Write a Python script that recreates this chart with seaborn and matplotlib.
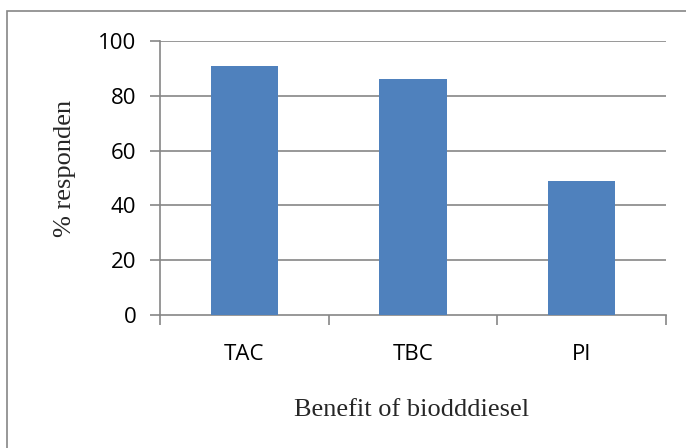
"""
Bar chart: % of respondents per perceived benefit of biodiesel.
"""

import matplotlib.pyplot as plt
import seaborn as sns
from matplotlib.patches import Rectangle

# ==========================================
# DATA
# ==========================================
benefits = ["TAC", "TBC", "PI"]
pct_responden = [91, 86, 49]
y_ticks = [0, 20, 40, 60, 80, 100]

BAR_COLOR = "#4f81bd"
AXIS_GRAY = "#868686"


def main():
    sns.set_theme(style="white")
    plt.rcParams["font.family"] = ["Open Sans", "DejaVu Sans"]

    fig = plt.figure(figsize=(6.86, 4.48), dpi=100)
    ax = fig.add_axes([160 / 686, 1 - 315 / 448, 506 / 686, 274 / 448])

    sns.barplot(x=benefits, y=pct_responden, color=BAR_COLOR,
                width=0.4, saturation=1, linewidth=0, ax=ax, zorder=3)

    ax.set_ylim(0, 100)
    ax.set_xlim(-0.5, 2.5)
    ax.set_yticks(y_ticks)
    ax.set_yticklabels([str(v) for v in y_ticks], fontsize=16)
    ax.set_xticks(range(len(benefits)))
    ax.set_xticklabels(benefits, fontsize=16)

    # horizontal gridlines
    for v in y_ticks[1:]:
        ax.axhline(v, color=AXIS_GRAY, lw=1.2, zorder=1)

    for side in ["top", "right"]:
        ax.spines[side].set_visible(False)
    for side in ["left", "bottom"]:
        ax.spines[side].set_color(AXIS_GRAY)
        ax.spines[side].set_linewidth(1.2)

    ax.tick_params(axis="y", which="major", left=True, length=7, width=1.2,
                   color=AXIS_GRAY, pad=10, labelcolor="black")
    ax.tick_params(axis="x", which="major", bottom=False, length=0, pad=21,
                   labelcolor="black")
    ax.set_xticks([-0.5, 0.5, 1.5, 2.5], minor=True)
    ax.tick_params(axis="x", which="minor", bottom=True, length=7, width=1.2,
                   color=AXIS_GRAY)

    ax.set_xlabel("")
    ax.set_ylabel("")
    fig.text(411.5 / 686, 1 - 410 / 448, "Benefit of biodddiesel",
             family="Liberation Serif", fontsize=19, ha="center", va="center")
    fig.text(65 / 686, 1 - 168 / 448, "% responden", rotation=90,
             family="Liberation Serif", fontsize=19, ha="center", va="center")

    # chart frame
    fig.patches.append(Rectangle((7 / 686, -0.05), 1.0, 1 - 11 / 448 + 0.05,
                                 transform=fig.transFigure, fill=False,
                                 edgecolor=AXIS_GRAY, lw=1.2))

    fig.savefig("out.png", dpi=100)
    plt.close(fig)


if __name__ == "__main__":
    main()
